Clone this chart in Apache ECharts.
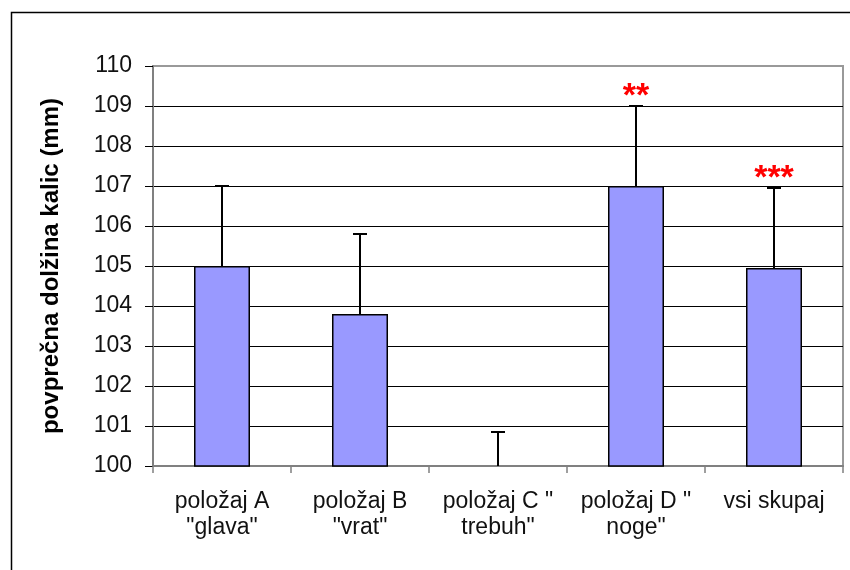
<!DOCTYPE html>
<html>
<head>
<meta charset="utf-8">
<script src="https://cdn.jsdelivr.net/npm/echarts@6/dist/echarts.min.js"></script>
<style>
  html, body { margin: 0; padding: 0; background: #fff; }
  #chartBar { width: 850px; height: 570px; }
</style>
</head>
<body>
<div id="chartBar"></div>
<script>
// data
var categories = ['položaj A\n"glava"', 'položaj B\n"vrat"', 'položaj C "\ntrebuh"', 'položaj D "\nnoge"', 'vsi skupaj'];
var means = [105, 103.8, 100, 107, 104.95];
var errUpper = [107, 105.8, 100.85, 109, 106.95];
var stars = ['', '', '', '**', '***'];
var yTicks = { min: 100, max: 110, interval: 1 };

var chartBar = echarts.init(document.getElementById('chartBar'));

var gridLineColors = [];
for (var i = 0; i <= 10; i++) gridLineColors.push(i === 10 ? '#999' : '#000');

chartBar.setOption({
  animation: false,
  textStyle: { fontFamily: 'Liberation Sans, Arial, sans-serif' },
  graphic: [{
    type: 'rect',
    shape: { x: 11.5, y: 12.5, width: 900, height: 700 },
    style: { fill: 'none', stroke: '#000', lineWidth: 1.5 },
    silent: true, z: -10
  }],
  grid: {
    left: 153, right: 7, top: 66, bottom: 104,
    show: true, borderColor: '#999', borderWidth: 2, backgroundColor: '#fff'
  },
  xAxis: {
    type: 'category',
    data: categories,
    axisLine: { lineStyle: { color: '#808080', width: 2 } },
    axisTick: { show: true, alignWithLabel: false, length: 7, lineStyle: { color: '#808080', width: 1.5 } },
    axisLabel: { color: '#111', fontSize: 23, lineHeight: 26, margin: 23, interval: 0 }
  },
  yAxis: {
    type: 'value',
    min: yTicks.min, max: yTicks.max, interval: yTicks.interval,
    name: 'povprečna dolžina kalic (mm)',
    nameLocation: 'middle',
    nameGap: 90,
    nameRotate: 90,
    nameTextStyle: { fontSize: 24, fontWeight: 'bold', color: '#000' },
    axisLine: { show: true, lineStyle: { color: '#808080', width: 2 } },
    axisTick: { show: true, length: 8, lineStyle: { color: '#000', width: 1 } },
    axisLabel: { color: '#111', fontSize: 23, margin: 21 },
    splitLine: { show: true, lineStyle: { color: gridLineColors, width: 1 } }
  },
  series: [
    {
      type: 'bar',
      data: means,
      barWidth: 56,
      itemStyle: { color: '#9999FF', borderColor: '#000', borderWidth: 1.5 }
    },
    {
      type: 'custom',
      z: 5,
      data: means.map(function (m, i) { return [i, m, errUpper[i]]; }),
      renderItem: function (params, api) {
        var i = api.value(0);
        var lo = api.coord([i, Math.max(api.value(1), yTicks.min)]);
        var hi = api.coord([i, api.value(2)]);
        var cap = 7;
        var children = [
          { type: 'line', shape: { x1: lo[0], y1: lo[1], x2: hi[0], y2: hi[1] },
            style: { stroke: '#000', lineWidth: 2 } },
          { type: 'line', shape: { x1: hi[0] - cap, y1: hi[1], x2: hi[0] + cap, y2: hi[1] },
            style: { stroke: '#000', lineWidth: 2 } }
        ];
        if (stars[i]) {
          children.push({
            type: 'text',
            style: {
              text: stars[i], x: hi[0], y: hi[1] - 9,
              align: 'center', verticalAlign: 'middle',
              fill: '#ff0000', font: 'bold 34px "Liberation Sans", Arial, sans-serif'
            }
          });
        }
        return { type: 'group', children: children };
      }
    }
  ]
});
</script>
</body>
</html>
